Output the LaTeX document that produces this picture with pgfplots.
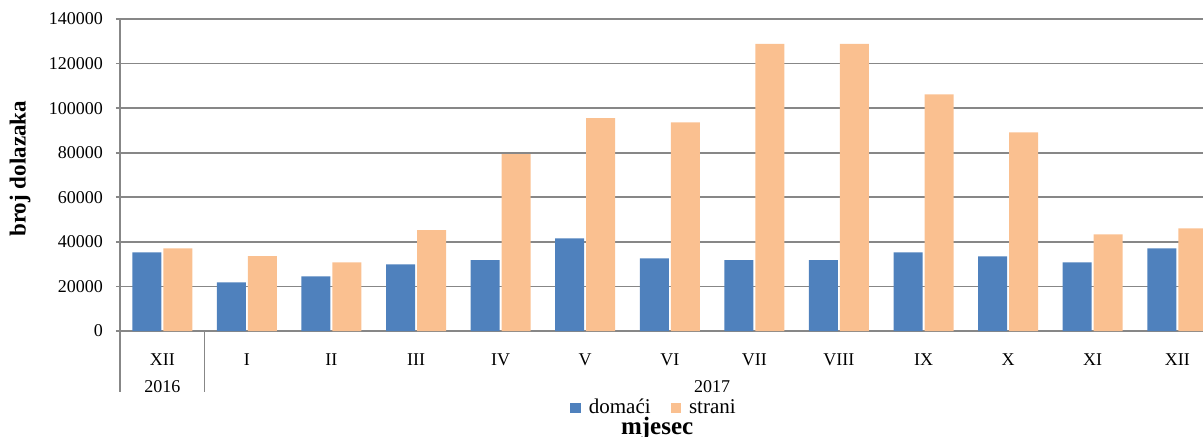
\documentclass[border=0pt]{standalone}
\usepackage{fontspec}
\setmainfont{Liberation Serif}
\usepackage{pgfplots}
\pgfplotsset{compat=1.18}
\definecolor{cblue}{HTML}{4F81BD}
\definecolor{corange}{HTML}{FAC090}
\definecolor{cgrid}{HTML}{878787}
\begin{document}
\begin{tikzpicture}
\begin{axis}[
  at={(0,0)}, anchor=south west,
  scale only axis,
  width=549.8pt, height=156pt,
  xmin=-0.5, xmax=12.5,
  ymin=0, ymax=140000,
  ytick={0,20000,40000,60000,80000,100000,120000,140000},
  scaled y ticks=false,
  xtick={0,...,12},
  xticklabels={XII,I,II,III,IV,V,VI,VII,VIII,IX,X,XI,XII},
  axis x line=bottom, axis y line=left,
  axis line style={cgrid, line width=0.8pt, -},
  x axis line style={-},
  y axis line style={-},
  ymajorgrids, grid style={cgrid, line width=0.8pt},
  tick align=outside,
  xtick style={draw=none},
  ytick style={cgrid, line width=0.8pt},
  major tick length=2pt,
  /pgf/number format/fixed,
  /pgf/number format/precision=0,
  /pgf/number format/1000 sep={},
  /pgf/number format/assume math mode=true,
  tick label style={font=\fontsize{9}{10}\selectfont, black},
  xticklabel style={anchor=base, yshift=-15pt},
  yticklabel style={xshift=-3pt},
  ylabel={broj dolazaka},
  ylabel style={at={(axis description cs:-0.0909,0.52)}, anchor=center, rotate=0, font=\fontsize{11.5}{13}\bfseries\selectfont},
  ybar=1pt, bar width=14.5pt,
  clip=false,
  legend columns=2,
  legend style={at={(0.4866,-0.247)}, anchor=center, draw=none, fill=none,
    font=\fontsize{10.5}{12}\selectfont, column sep=2pt,
    /tikz/every even column/.append style={column sep=8pt}},
  legend image code/.code={\fill[#1] (0pt,-2.6pt) rectangle (5.2pt,2.6pt);},
]
\addplot[fill=cblue, draw=none] coordinates {
(0,35300) (1,21850) (2,24540) (3,29900) (4,31860) (5,41600) (6,32600)
(7,31860) (8,31860) (9,35300) (10,33500) (11,30800) (12,37100)};
\addplot[fill=corange, draw=none] coordinates {
(0,37100) (1,33650) (2,30800) (3,45300) (4,79400) (5,95580) (6,93650)
(7,128800) (8,128800) (9,106200) (10,89150) (11,43370) (12,46070)};
\legend{domaći, strani}
\draw[cgrid, line width=0.8pt] (axis cs:-0.5,0) -- ([yshift=-30.5pt]axis cs:-0.5,0);
\draw[cgrid, line width=0.8pt] (axis cs:0.5,0) -- ([yshift=-30.5pt]axis cs:0.5,0);
\node[anchor=base, font=\fontsize{9}{10}\selectfont] at ([yshift=-30.5pt]axis cs:0,0) {2016};
\node[anchor=base, font=\fontsize{9}{10}\selectfont] at ([yshift=-30.5pt]axis cs:6.5,0) {2017};
\node[anchor=base, font=\fontsize{12.5}{14}\bfseries\selectfont] at ([yshift=-51.5pt]axis cs:5.85,0) {mjesec};
\end{axis}
\pgfresetboundingbox
\useasboundingbox (-60pt,-52.5pt) rectangle (541.5pt,165.5pt);
\end{tikzpicture}
\end{document}
